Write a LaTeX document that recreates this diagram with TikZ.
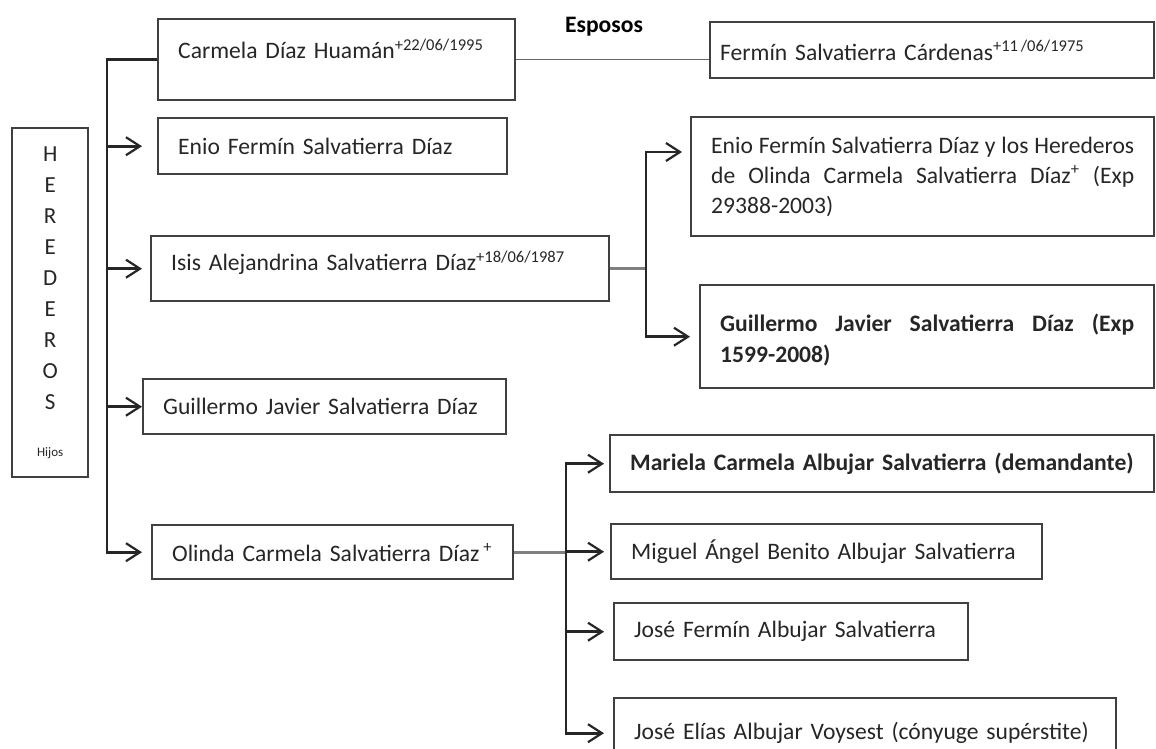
\documentclass[tikz,border=0pt,11pt]{standalone}
\usepackage{fontspec}
\setmainfont{Carlito}
\usetikzlibrary{arrows.meta,calc}

\begin{document}
\fontsize{11.8}{14.5}\selectfont
\begin{tikzpicture}[x=0.5pt,y=-0.5pt,
    member/.style 2 args={draw=black!75,line width=1.2pt,rectangle,anchor=north west,
      inner xsep=10pt,align=left,text=black!85,text width=#1,minimum height=#2},
    link/.style={draw=black!85,line width=1.3pt},
    link gray/.style={draw=black!50,line width=1.5pt},
    arr/.style={link,-{Straight Barb[length=7pt,width=9pt,line width=1.1pt]}},
    arrs/.style={link,{Straight Barb[length=7pt,width=9pt,line width=1.1pt]}-{Straight Barb[length=7pt,width=9pt,line width=1.1pt]}}]

  \useasboundingbox (0,0) rectangle (1156,749);
  \clip (0,0) rectangle (1156,749);

  % column of the heirs
  \node [member={18pt}{174.5pt},align=center,font=\fontsize{11.5}{15.5}\selectfont] at (11,127) (heirs)
    {H\\E\\R\\E\\D\\E\\R\\O\\S\\[8pt]{\fontsize{6.5}{8}\selectfont Hijos}};

  % spouses and children
  \node [member={158.5pt}{40.5pt},text depth=11pt] at (157,18) (carmela) {Carmela Díaz Huamán\textsuperscript{+22/06/1995}};
  \node [member={212pt}{28pt},inner xsep=5pt] at (709,21) (fermin) {Fermín Salvatierra Cárdenas\textsuperscript{+11\,/06/1975}};
  \node [font=\bfseries] at (604,27) (spouses) {Esposos};
  \node [member={154.5pt}{28pt}] at (157,117) (enio) {Enio Fermín Salvatierra Díaz};
  \node [member={209pt}{32.5pt},text depth=8pt] at (150,235) (isis) {Isis Alejandrina Salvatierra Díaz\textsuperscript{+18/06/1987}};
  \node [member={161.5pt}{27.5pt}] at (142,378) (guillermo) {Guillermo Javier Salvatierra Díaz};
  \node [member={160.5pt}{27pt}] at (151,524) (olinda) {Olinda Carmela Salvatierra Díaz\,\textsuperscript{+}};

  % heirs of Isis
  \node [member={211.5pt}{59.5pt},align=justify,font=\fontsize{11.8}{15}\selectfont] at (690,116) (isis_a)
    {Enio Fermín Salvatierra Díaz y los Herederos\linebreak de Olinda Carmela Salvatierra Díaz\textsuperscript{+} (Exp\linebreak 29388-2003)};
  \node [member={207pt}{51.5pt},align=justify,font=\bfseries\fontsize{11.8}{15.5}\selectfont,text depth=13.7pt] at (699,284) (isis_b)
    {Guillermo Javier Salvatierra Díaz (Exp\linebreak 1599-2008)};

  % heirs of Olinda
  \node [member={252pt}{28.5pt},font=\bfseries] at (609,434) (olinda_a) {Mariela Carmela Albujar Salvatierra (demandante)};
  \node [member={195.5pt}{27.5pt}] at (610,523) (olinda_b) {Miguel Ángel Benito Albujar Salvatierra};
  \node [member={157pt}{28.5pt}] at (613,602) (olinda_c) {José Fermín Albujar Salvatierra};
  \node [member={231pt}{35pt}] at (613,697) (olinda_d) {José Elías Albujar Voysest (cónyuge supérstite)};

  \coordinate (trunk) at (107,0);
  \coordinate (tipsL) at (142,0);
  \coordinate (forkA) at (646,152);
  \coordinate (tipsA) at (682,0);
  \coordinate (forkB) at (566,0);
  \coordinate (tipsB) at (604,0);

  % main trunk
  \draw [arr] (carmela.west) -| (trunk |- olinda.west) -- (tipsL |- olinda.west);
  \foreach \kid in {enio,isis,guillermo}
    \draw [arr] (trunk |- \kid.west) -- (tipsL |- \kid.west);

  \draw [draw=black!60,line width=0.7pt] (carmela.east) -- (carmela.east -| fermin.west);

  % fork of Isis
  \draw [link gray] (isis.east) -- (isis.east -| forkA);
  \draw [arrs] (forkA -| tipsA) -- (forkA) |- ([xshift=-4.5pt]isis_b.west);

  % fork of Olinda
  \draw [link gray] (olinda.east) -- (olinda.east -| forkB);
  \draw [arrs] (tipsB |- olinda_a.west) -| (forkB |- olinda_d.west) -- (tipsB |- olinda_d.west);
  \foreach \kid in {olinda_b,olinda_c}
    \draw [arr] (forkB |- \kid.west) -- (tipsB |- \kid.west);

\end{tikzpicture}
\end{document}
